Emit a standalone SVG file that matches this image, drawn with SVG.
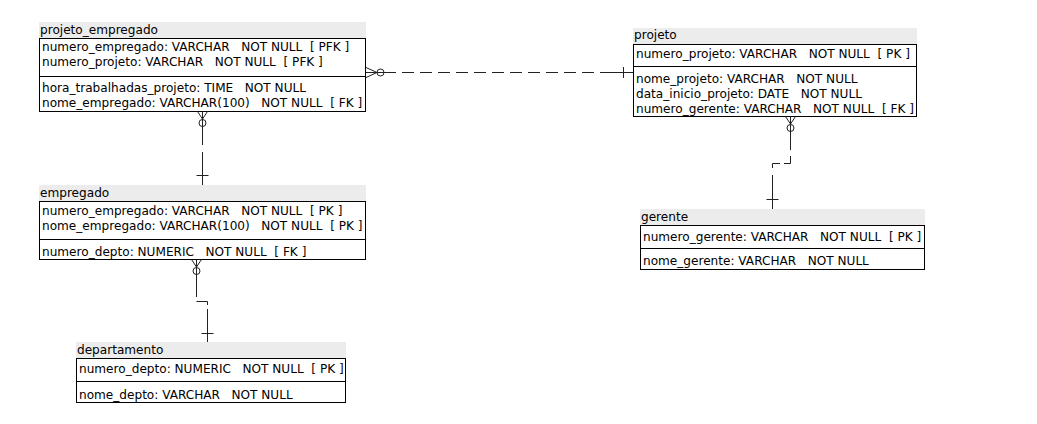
<svg xmlns="http://www.w3.org/2000/svg" width="1037" height="424" viewBox="0 0 1037 424">
<style>
text{font-family:"DejaVu Sans","Noto Sans",sans-serif;font-size:12.1px;fill:#000;white-space:pre}
.hd{fill:#ececec;stroke:none}
.bx{fill:#fff;stroke:#000;stroke-width:1}
.dv{stroke:#000;stroke-width:1}
.cn{fill:none;stroke:#222;stroke-width:1}
</style>
<rect width="1037" height="424" fill="#fff"/>
<g id="projeto_empregado">
<rect class="hd" x="39" y="22" width="327" height="16"/>
<text x="40" y="34">projeto_empregado</text>
<rect class="bx" x="39.5" y="38.5" width="326" height="73"/>
<line class="dv" x1="39.5" y1="76.5" x2="365.5" y2="76.5"/>
<text x="42" y="51">numero_empregado: VARCHAR   NOT NULL  [ PFK ]</text>
<text x="42" y="66">numero_projeto: VARCHAR   NOT NULL  [ PFK ]</text>
<text x="42" y="92">hora_trabalhadas_projeto: TIME   NOT NULL</text>
<text x="42" y="107">nome_empregado: VARCHAR(100)   NOT NULL  [ FK ]</text>
</g>
<g id="projeto">
<rect class="hd" x="633" y="28" width="284" height="16"/>
<text x="634" y="39">projeto</text>
<rect class="bx" x="633.5" y="44.5" width="283" height="72"/>
<line class="dv" x1="633.5" y1="66.5" x2="916.5" y2="66.5"/>
<text x="636" y="58">numero_projeto: VARCHAR   NOT NULL  [ PK ]</text>
<text x="636" y="83">nome_projeto: VARCHAR   NOT NULL</text>
<text x="636" y="98">data_inicio_projeto: DATE   NOT NULL</text>
<text x="636" y="113">numero_gerente: VARCHAR   NOT NULL  [ FK ]</text>
</g>
<g id="empregado">
<rect class="hd" x="39" y="185" width="327" height="16"/>
<text x="40" y="197">empregado</text>
<rect class="bx" x="39.5" y="201.5" width="326" height="58"/>
<line class="dv" x1="39.5" y1="239.5" x2="365.5" y2="239.5"/>
<text x="42" y="215">numero_empregado: VARCHAR   NOT NULL  [ PK ]</text>
<text x="42" y="230">nome_empregado: VARCHAR(100)   NOT NULL  [ PK ]</text>
<text x="42" y="255.5">numero_depto: NUMERIC   NOT NULL  [ FK ]</text>
</g>
<g id="departamento">
<rect class="hd" x="76" y="342" width="270" height="16"/>
<text x="77" y="354">departamento</text>
<rect class="bx" x="76.5" y="358.5" width="269" height="44"/>
<line class="dv" x1="76.5" y1="381.5" x2="345.5" y2="381.5"/>
<text x="79" y="373">numero_depto: NUMERIC   NOT NULL  [ PK ]</text>
<text x="79" y="398.5">nome_depto: VARCHAR   NOT NULL</text>
</g>
<g id="gerente">
<rect class="hd" x="640" y="209" width="285" height="16"/>
<text x="641" y="221">gerente</text>
<rect class="bx" x="640.5" y="225.5" width="284" height="44"/>
<line class="dv" x1="640.5" y1="248.5" x2="924.5" y2="248.5"/>
<text x="643" y="240.5">numero_gerente: VARCHAR   NOT NULL  [ PK ]</text>
<text x="643" y="265">nome_gerente: VARCHAR   NOT NULL</text>
</g>
<g id="connectors">
<path class="cn" d="M366 67.5 L377 72.5 L366 77.5 M366 72.5 H384"/>
<circle class="cn" cx="380.5" cy="72.5" r="3.5"/>
<line class="cn" x1="384" y1="72.5" x2="612" y2="72.5" stroke-dasharray="12 6"/>
<path class="cn" d="M612 72.5 H633 M623.5 67 V78"/>
<path class="cn" d="M197.5 111.5 L202.5 119 L207.5 111.5 M202.5 111.5 V145 M202.5 152 V185 M196.5 175.5 H208.5"/>
<circle class="cn" cx="202.5" cy="123" r="3.5"/>
<path class="cn" d="M191.5 259.5 L196.5 267 L201.5 259.5 M196.5 259.5 V297 M196.5 301.5 H207.5 V305 M207.5 309 V342 M201.5 333.5 H213.5"/>
<circle class="cn" cx="196.5" cy="271" r="3.5"/>
<path class="cn" d="M785.5 116.5 L790.5 124 L795.5 116.5 M790.5 116.5 V150 M790.5 156 V163.5 H784 M780 163.5 H772.5 V168 M772.5 175 V209 M766.5 199.5 H778.5"/>
<circle class="cn" cx="790.5" cy="128" r="3.5"/>
</g>
</svg>
